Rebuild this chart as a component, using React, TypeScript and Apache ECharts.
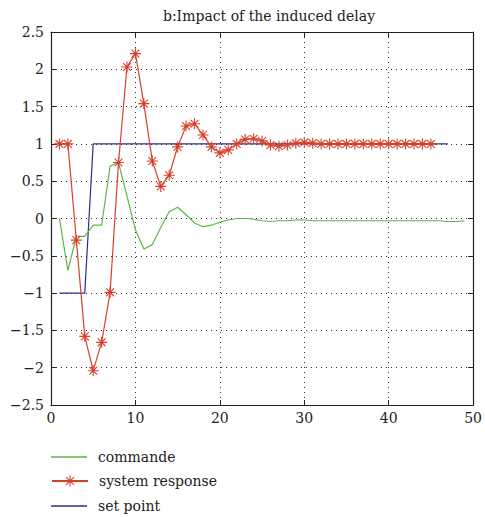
import React, { useEffect, useRef } from "react";
import * as echarts from "echarts";

const titleText = "b:Impact of the induced delay";
const seriesNames = ["commande", "system response", "set point"];

// values at t = 1, 2, 3, ...
const commande = [
  0.0, -0.7, -0.24, -0.24, -0.09, -0.09, 0.7, 0.75, 0.3, -0.15,
  -0.41, -0.35, -0.12, 0.09, 0.15, 0.05, -0.06, -0.11, -0.09, -0.05,
  -0.02, 0.0, 0.0, -0.01, -0.03, -0.04, -0.03, -0.03, -0.02, -0.02,
  -0.03, -0.03, -0.03, -0.03, -0.03, -0.03, -0.03, -0.03, -0.03, -0.03,
  -0.03, -0.03, -0.03, -0.03, -0.03, -0.03, -0.04, -0.04, -0.03,
];
const systemResponse = [
  1.0, 1.0, -0.29, -1.58, -2.04, -1.66, -0.99, 0.75, 2.03, 2.21,
  1.54, 0.77, 0.43, 0.58, 0.96, 1.24, 1.27, 1.12, 0.96, 0.88,
  0.92, 1.0, 1.06, 1.07, 1.04, 0.985, 0.97, 0.985, 1.01, 1.02,
  1.01, 1.0, 1.0, 1.0, 1.0, 1.0, 1.0, 1.0, 1.0, 1.0,
  1.0, 1.0, 1.0, 1.0, 1.0,
];
const setPoint = [
  -1, -1, -1, -1, 1, 1, 1, 1, 1, 1,
  1, 1, 1, 1, 1, 1, 1, 1, 1, 1,
  1, 1, 1, 1, 1, 1, 1, 1, 1, 1,
  1, 1, 1, 1, 1, 1, 1, 1, 1, 1,
  1, 1, 1, 1, 1, 1, 1,
];

const toPairs = (arr: number[]) => arr.map((v, i) => [i + 1, v]);

const FONT = "DejaVu Serif";
const asterisk =
  "path://M9 0L11 0L11 20L9 20Z M0 9L20 9L20 11L0 11Z M3.6 2.2L17.8 16.4L16.4 17.8L2.2 3.6Z M17.8 3.6L3.6 17.8L2.2 16.4L16.4 2.2Z";
const lineIcon = "path://M0 0L36 0L36 1.4L0 1.4Z";

const fmt = (v: number) => String(v).replace("-", "\u2212");

export default function App() {
  const ref = useRef<HTMLDivElement>(null);
  useEffect(() => {
    if (!ref.current) return;
    const chart = echarts.init(ref.current, null, { renderer: "svg" });
    const boxAxis = {
      axisLine: { show: true, onZero: false, lineStyle: { color: "#222", width: 1.2 } },
      axisTick: { show: true, inside: true, length: 5, lineStyle: { color: "#222" } },
    };
    const legendBase = {
      orient: "vertical",
      left: 51,
      padding: 0,
      itemWidth: 36,
      itemHeight: 14,
      symbolKeepAspect: true,
      textStyle: { fontFamily: FONT, fontSize: 14, color: "#222", padding: [0, 0, 0, 6] },
    };
    chart.setOption({
      animation: false,
      backgroundColor: "#fff",
      title: {
        text: titleText,
        left: 264,
        textAlign: "center",
        top: 4,
        textStyle: { fontFamily: FONT, fontSize: 14, fontWeight: "normal", color: "#222" },
      },
      grid: { left: 51, top: 32, right: 7, bottom: 112 },
      xAxis: [
        {
          type: "value",
          min: 0,
          max: 50,
          interval: 10,
          ...boxAxis,
          axisLabel: { fontFamily: FONT, fontSize: 14, color: "#222", margin: 6 },
          splitLine: { show: true, lineStyle: { type: [1, 4], color: "#333", width: 1 } },
        },
        {
          type: "value",
          position: "top",
          min: 0,
          max: 50,
          interval: 10,
          ...boxAxis,
          axisLabel: { show: false },
          splitLine: { show: false },
        },
      ],
      yAxis: [
        {
          type: "value",
          min: -2.5,
          max: 2.5,
          interval: 0.5,
          ...boxAxis,
          axisLabel: { fontFamily: FONT, fontSize: 14, color: "#222", margin: 7, formatter: fmt },
          splitLine: { show: true, lineStyle: { type: [1, 4], color: "#333", width: 1 } },
        },
        {
          type: "value",
          position: "right",
          min: -2.5,
          max: 2.5,
          interval: 0.5,
          ...boxAxis,
          axisLabel: { show: false },
          splitLine: { show: false },
        },
      ],
      legend: [
        { ...legendBase, top: 450, data: [{ name: seriesNames[0], icon: lineIcon }] },
        { ...legendBase, top: 474, data: [{ name: seriesNames[1] }] },
        { ...legendBase, top: 499, data: [{ name: seriesNames[2], icon: lineIcon }] },
      ],
      series: [
        {
          name: seriesNames[0],
          type: "line",
          data: toPairs(commande),
          symbol: "none",
          lineStyle: { color: "#5cb547", width: 1.2 },
          itemStyle: { color: "#5cb547", borderWidth: 0 },
        },
        {
          name: seriesNames[1],
          type: "line",
          data: toPairs(systemResponse),
          symbol: asterisk,
          symbolSize: 11,
          lineStyle: { color: "#d8402a", width: 1.2 },
          itemStyle: { color: "#d8402a" },
          z: 3,
        },
        {
          name: seriesNames[2],
          type: "line",
          data: toPairs(setPoint),
          symbol: "none",
          lineStyle: { color: "#2e2c8c", width: 1.2 },
          itemStyle: { color: "#2e2c8c", borderWidth: 0 },
          z: 2,
        },
      ],
    });
    return () => chart.dispose();
  }, []);
  return <div ref={ref} style={{ width: 485, height: 517, position: "absolute", left: 0, top: 0 }} />;
}
